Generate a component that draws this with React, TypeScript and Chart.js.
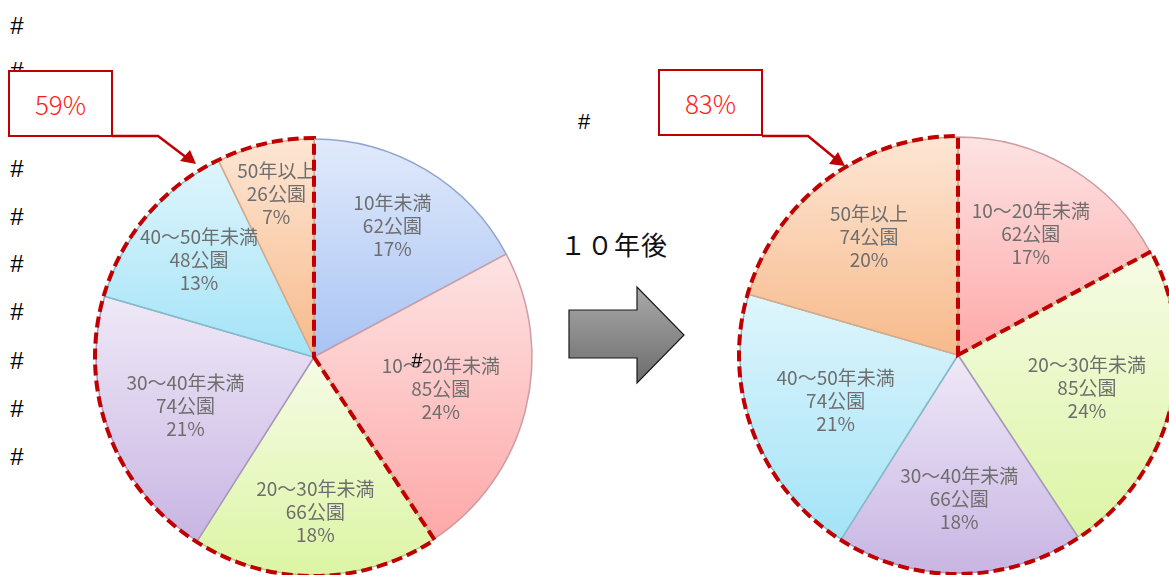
import React, { useEffect, useRef } from "react";
import { Chart, registerables } from "chart.js";

Chart.register(...registerables);

// ---------- data ----------
const beforeCategories = ["10年未満", "10～20年未満", "20～30年未満", "30～40年未満", "40～50年未満", "50年以上"];
const beforeParks = [62, 85, 66, 74, 48, 26];
const beforePercents = [17, 24, 18, 21, 13, 7];
const beforeHighlight = [2, 3, 4, 5];
const beforeHighlightTotal = "59%";

const afterCategories = ["10～20年未満", "20～30年未満", "30～40年未満", "40～50年未満", "50年以上"];
const afterParks = [62, 85, 66, 74, 74];
const afterPercents = [17, 24, 18, 21, 20];
const afterHighlight = [1, 2, 3, 4];
const afterHighlightTotal = "83%";

const arrowCaption = "１０年後";

// ---------- styles ----------
const PALETTE: Record<string, { top: string; bottom: string; border: string }> = {
  "10年未満": { top: "#e1eafb", bottom: "#a8c3f3", border: "#8fa5d0" },
  "10～20年未満": { top: "#fde3e3", bottom: "#fea8a8", border: "#cf9ca2" },
  "20～30年未満": { top: "#f6fbe6", bottom: "#dcf5a4", border: "#b8c791" },
  "30～40年未満": { top: "#efe9f7", bottom: "#c8b5e3", border: "#a698bd" },
  "40～50年未満": { top: "#dff5fc", bottom: "#a3e3f7", border: "#80bccb" },
  "50年以上": { top: "#fde6d4", bottom: "#f7ba8b", border: "#d6aa86" },
};
const beforeLabelRadius = [0.7, 0.6, 0.71, 0.63, 0.69, 0.77];
const afterLabelRadius = [0.65, 0.61, 0.66, 0.6, 0.68];
const PIE_RADIUS = 218;
const CANVAS = 460;

type PieOpts = {
  categories: string[];
  parks: number[];
  percents: number[];
  highlight: number[];
  labelRadius: number[];
};

const pieExtras = {
  id: "pieExtras",
  afterDatasetsDraw(chart: any, _args: any, opts: PieOpts) {
    const meta = chart.getDatasetMeta(0);
    const ctx: CanvasRenderingContext2D = chart.ctx;
    ctx.save();
    ctx.fillStyle = "#6e6e6e";
    ctx.textAlign = "center";
    ctx.textBaseline = "middle";
    ctx.font = '19px "Noto Sans CJK JP", "Noto Sans", sans-serif';
    meta.data.forEach((arc: any, i: number) => {
      const p = arc.getProps(["x", "y", "startAngle", "endAngle", "outerRadius"], true);
      const mid = (p.startAngle + p.endAngle) / 2;
      const r = p.outerRadius * opts.labelRadius[i];
      const lx = p.x + Math.cos(mid) * r;
      const ly = p.y + Math.sin(mid) * r;
      const lines = [opts.categories[i], `${opts.parks[i]}公園`, `${opts.percents[i]}%`];
      lines.forEach((t, k) => ctx.fillText(t, lx, ly + (k - 1) * 23));
    });
    // dashed outline around highlighted group
    const first = meta.data[opts.highlight[0]].getProps(["x", "y", "startAngle", "outerRadius"], true);
    const last = meta.data[opts.highlight[opts.highlight.length - 1]].getProps(["endAngle"], true);
    const R = first.outerRadius + 1;
    ctx.beginPath();
    ctx.moveTo(first.x, first.y);
    ctx.arc(first.x, first.y, R, first.startAngle, last.endAngle, false);
    ctx.closePath();
    ctx.setLineDash([11, 5]);
    ctx.lineWidth = 4;
    ctx.strokeStyle = "#c00000";
    ctx.lineJoin = "miter";
    ctx.stroke();
    ctx.restore();
  },
};

function sliceFill(values: number[], categories: string[]) {
  return (c: any) => {
    const chart = c.chart;
    const area = chart.chartArea;
    const i = c.dataIndex;
    const col = PALETTE[categories[i ?? 0]];
    if (!area || i === undefined) return col.bottom;
    const total = values.reduce((a, b) => a + b, 0);
    let cum = 0;
    for (let k = 0; k < i; k++) cum += values[k];
    const a0 = -Math.PI / 2 + (cum / total) * 2 * Math.PI;
    const a1 = a0 + (values[i] / total) * 2 * Math.PI;
    const cy = (area.top + area.bottom) / 2;
    const ys = [cy, cy + PIE_RADIUS * Math.sin(a0), cy + PIE_RADIUS * Math.sin(a1)];
    for (const t of [-Math.PI / 2, Math.PI / 2, (3 * Math.PI) / 2]) {
      if (t >= a0 && t <= a1) ys.push(cy + PIE_RADIUS * Math.sin(t));
    }
    const g = chart.ctx.createLinearGradient(0, Math.min(...ys), 0, Math.max(...ys));
    g.addColorStop(0, col.top);
    g.addColorStop(1, col.bottom);
    return g;
  };
}

function PieCanvas(props: {
  categories: string[];
  parks: number[];
  percents: number[];
  highlight: number[];
  labelRadius: number[];
  left: number;
  top: number;
}) {
  const ref = useRef<HTMLCanvasElement | null>(null);
  useEffect(() => {
    if (!ref.current) return;
    const chart = new Chart(ref.current, {
      type: "pie",
      data: {
        labels: props.categories,
        datasets: [
          {
            data: props.parks,
            backgroundColor: sliceFill(props.parks, props.categories) as any,
            borderColor: props.categories.map((c) => PALETTE[c].border),
            borderWidth: 1.5,
          },
        ],
      },
      options: {
        animation: false,
        responsive: false,
        maintainAspectRatio: false,
        devicePixelRatio: 1,
        radius: PIE_RADIUS,
        layout: { padding: 0 },
        events: [],
        plugins: {
          legend: { display: false },
          tooltip: { enabled: false },
          pieExtras: {
            categories: props.categories,
            parks: props.parks,
            percents: props.percents,
            highlight: props.highlight,
            labelRadius: props.labelRadius,
          },
        } as any,
      },
      plugins: [pieExtras],
    });
    return () => chart.destroy();
  }, []);
  return (
    <canvas
      ref={ref}
      width={CANVAS}
      height={CANVAS}
      style={{ position: "absolute", left: props.left, top: props.top, width: CANVAS, height: CANVAS }}
    />
  );
}

const hashMarks: [number, number, number][] = [
  [17, 27, 24], [17, 72, 24], [17, 120, 24], [17, 170, 24], [17, 218, 24], [17, 265, 24],
  [17, 313, 24], [17, 362, 24], [17, 410, 24], [17, 458, 24], [584, 123, 22], [417, 361, 20],
];

function Callout(props: { left: number; top: number; text: string }) {
  return (
    <div
      style={{
        position: "absolute",
        left: props.left,
        top: props.top,
        width: 101,
        height: 63,
        border: "2.5px solid #c00000",
        background: "#fff",
        color: "#ff1c1c",
        fontFamily: '"Noto Sans CJK JP", "Noto Sans", sans-serif',
        fontSize: 26,
        fontWeight: 300,
        display: "flex",
        alignItems: "center",
        justifyContent: "center",
        boxSizing: "content-box",
      }}
    >
      {props.text}
    </div>
  );
}

export default function App() {
  return (
    <div
      style={{
        position: "absolute",
        left: 0,
        top: 0,
        width: 1169,
        height: 575,
        overflow: "hidden",
        background: "#fff",
      }}
    >
      <PieCanvas
        categories={beforeCategories}
        parks={beforeParks}
        percents={beforePercents}
        highlight={beforeHighlight}
        labelRadius={beforeLabelRadius}
        left={314 - CANVAS / 2}
        top={357 - CANVAS / 2}
      />
      <PieCanvas
        categories={afterCategories}
        parks={afterParks}
        percents={afterPercents}
        highlight={afterHighlight}
        labelRadius={afterLabelRadius}
        left={958 - CANVAS / 2}
        top={355 - CANVAS / 2}
      />
      {hashMarks.map(([x, y, s], i) => (
        <div
          key={i}
          style={{
            position: "absolute",
            left: x - 20,
            width: 40,
            top: y - s * 0.55,
            fontFamily: '"Liberation Sans", sans-serif',
            fontSize: s,
            lineHeight: `${s}px`,
            textAlign: "center",
            color: "#000",
          }}
        >
          #
        </div>
      ))}
      <div
        style={{
          position: "absolute",
          left: 560,
          top: 229,
          width: 120,
          fontFamily: '"Noto Sans CJK JP", sans-serif',
          fontSize: 26,
          lineHeight: "30px",
          letterSpacing: 1,
          color: "#111",
          whiteSpace: "nowrap",
        }}
      >
        {arrowCaption}
      </div>
      <svg
        width={1169}
        height={575}
        style={{ position: "absolute", left: 0, top: 0, pointerEvents: "none" }}
      >
        <defs>
          <linearGradient id="arrowGrad" x1="0" y1="0" x2="0" y2="1">
            <stop offset="0" stopColor="#a9a9a9" />
            <stop offset="1" stopColor="#6c6c6c" />
          </linearGradient>
        </defs>
        <polygon
          points="569,310 637,310 637,287 684,335 637,383 637,358 569,358"
          fill="url(#arrowGrad)"
          stroke="#1a1a1a"
          strokeWidth={1.2}
        />
        <polyline points="112,136 158,136 187,158" fill="none" stroke="#c00000" strokeWidth={2.5} />
        <polygon points="196,164 180,161 190,150" fill="#c00000" />
        <polyline points="762,136 808,136 836,159" fill="none" stroke="#c00000" strokeWidth={2.5} />
        <polygon points="845,166 829,164 838,152" fill="#c00000" />
      </svg>
      <Callout left={8} top={70} text={beforeHighlightTotal} />
      <Callout left={658} top={69} text={afterHighlightTotal} />
    </div>
  );
}
